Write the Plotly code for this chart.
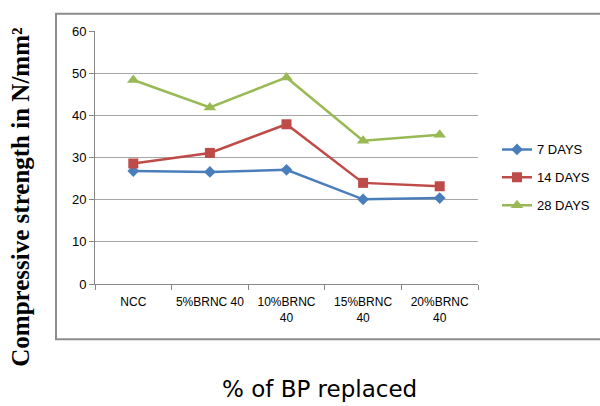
import plotly.graph_objects as go

categories = ["NCC", "5%BRNC 40", "10%BRNC<br>40", "15%BRNC<br>40", "20%BRNC<br>40"]
days7 = [26.8, 26.6, 27.1, 20.1, 20.4]
days14 = [28.6, 31.1, 37.9, 24.0, 23.2]
days28 = [48.4, 41.9, 49.0, 34.0, 35.4]
series_names = ["7 DAYS", "14 DAYS", "28 DAYS"]
y_ticks = [0, 10, 20, 30, 40, 50, 60]

W, H = 600, 406
fig = go.Figure()
styles = [
    ("#4a7ebb", "diamond", 9),
    ("#be4b48", "square", 10),
    ("#98b954", "triangle-up", 11),
]
for i, (name, vals) in enumerate(zip(series_names, [days7, days14, days28])):
    c, sym, sz = styles[i]
    fig.add_trace(go.Scatter(
        x=categories, y=vals, name=name, mode="lines+markers",
        line=dict(color=c, width=2.5),
        marker=dict(symbol=sym, size=sz, color=c),
        legendgroup=name,
    ))

fig.update_layout(
    width=W, height=H,
    margin=dict(l=0, r=0, t=0, b=0),
    paper_bgcolor="white", plot_bgcolor="white",
    font=dict(family="Liberation Sans, Arial", size=12, color="#000"),
    xaxis=dict(
        domain=[95 / W, 478 / W],
        type="category", tickson="boundaries",
        range=[-0.5, len(categories) - 0.5],
        showline=True, linecolor="#888", linewidth=1,
        ticks="outside", ticklen=5, tickcolor="#888",
        showgrid=False, zeroline=False, tickangle=0,
        ticklabelstandoff=7,
        tickfont=dict(size=12),
    ),
    yaxis=dict(
        domain=[(H - 287.7) / H, (H - 25) / H],
        range=[0, 60], tickvals=y_ticks,
        showline=True, linecolor="#888", linewidth=1,
        ticks="outside", ticklen=5, tickcolor="#888",
        showgrid=True, gridcolor="#a6a6a6", gridwidth=1,
        zeroline=False, tickfont=dict(size=13),
    ),
    legend=dict(
        x=497 / W, y=(H - 177) / H, xanchor="left", yanchor="middle",
        font=dict(size=13), traceorder="grouped", tracegroupgap=8,
        bgcolor="rgba(0,0,0,0)",
    ),
    shapes=[dict(
        type="rect", xref="paper", yref="paper",
        x0=56 / W, x1=1.2, y0=(H - 345) / H, y1=(H - 7) / H,
        line=dict(color="#8c8c8c", width=2), layer="below",
    )],
    annotations=[
        dict(text="<b>Compressive strength in N/mm²</b>", textangle=-90,
             xref="paper", yref="paper", x=21 / W, y=(H - 198) / H,
             xanchor="center", yanchor="middle",
             showarrow=False, font=dict(family="Liberation Serif, Times New Roman", size=25)),
        dict(text="% of BP replaced", xref="paper", yref="paper",
             x=319 / W, y=(H - 397) / H, yanchor="middle", showarrow=False,
             font=dict(family="DejaVu Sans, Verdana", size=23)),
    ],
)

fig.write_html("out.html")
